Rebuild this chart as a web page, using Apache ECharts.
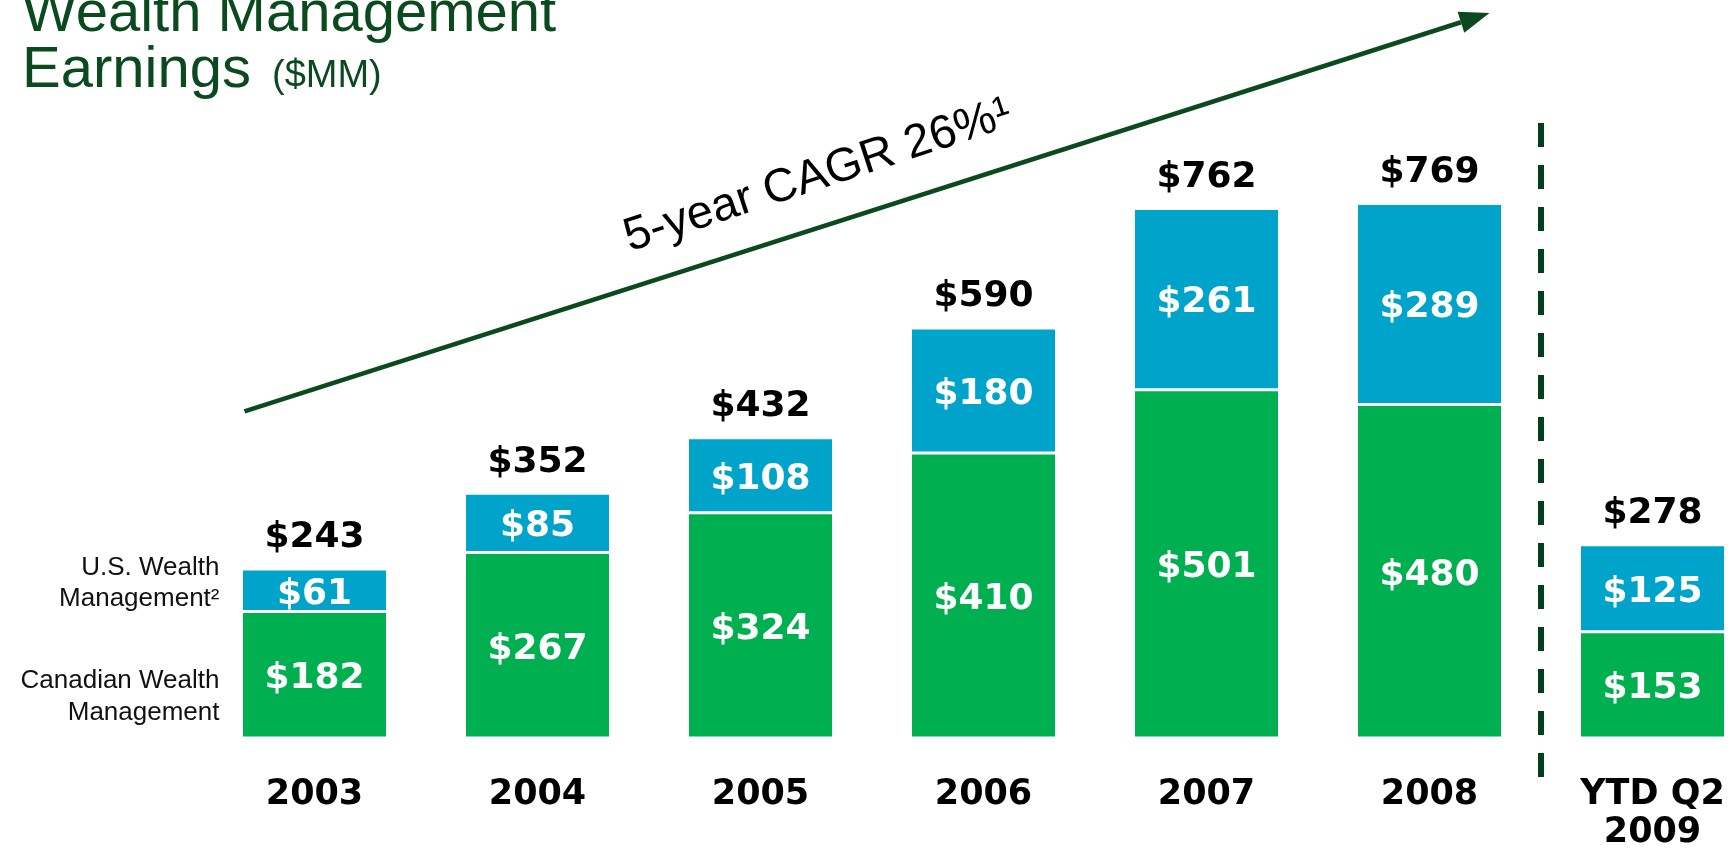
<!DOCTYPE html>
<html lang="en">
<head>
    <meta charset="UTF-8">
    <title>Wealth Management Earnings</title>
    <script src="https://cdn.jsdelivr.net/npm/echarts@6/dist/echarts.min.js"></script>
    <style>
        html, body { margin: 0; padding: 0; background: #fff; }
        #main { width: 1733px; height: 849px; }
    </style>
</head>
<body>
<div id="main"></div>
<script type="text/javascript">
    // data
    var categories = ['2003', '2004', '2005', '2006', '2007', '2008', 'YTD Q2\n2009'];
    var canadianWM = [182, 267, 324, 410, 501, 480, 153];
    var usWM = [61, 85, 108, 180, 261, 289, 125];
    var totals = canadianWM.map(function (v, i) { return v + usWM[i]; });

    var green = '#00B050';
    var blue = '#00A3C9';
    var darkGreen = '#0B4A1E';
    var boldFont = 'DejaVu Sans';
    var plainFont = '"Liberation Sans", Arial, sans-serif';

    var myChart = echarts.init(document.getElementById('main'));

    var valueLabel = {
        show: true,
        position: 'inside',
        offset: [0, 4],
        color: '#fff',
        fontFamily: boldFont,
        fontWeight: 'bold',
        fontSize: 36,
        formatter: function (p) { return '$' + p.value; }
    };

    var option = {
        animation: false,
        backgroundColor: '#fff',
        grid: { left: 203, width: 1561, top: 43, height: 695, outerBoundsMode: 'none', containLabel: false },
        xAxis: {
            type: 'category',
            data: categories,
            axisLine: { show: false },
            axisTick: { show: false },
            axisLabel: {
                margin: 38,
                color: '#000',
                fontFamily: boldFont,
                fontWeight: 'bold',
                fontSize: 35,
                lineHeight: 38
            }
        },
        yAxis: {
            type: 'value',
            min: 0,
            max: 1000,
            show: false,
            splitLine: { show: false }
        },
        series: [
            {
                name: 'Canadian Wealth Management',
                type: 'bar',
                stack: 'wm',
                barWidth: 146,
                data: canadianWM,
                itemStyle: { color: green, borderColor: '#fff', borderWidth: 1.5 },
                label: valueLabel
            },
            {
                name: 'U.S. Wealth Management',
                type: 'bar',
                stack: 'wm',
                barWidth: 146,
                data: usWM,
                itemStyle: { color: blue, borderColor: '#fff', borderWidth: 1.5 },
                label: valueLabel
            },
            {
                // zero-height cap that carries the total label
                name: 'Total',
                type: 'bar',
                stack: 'wm',
                barWidth: 146,
                data: totals.map(function () { return 0; }),
                itemStyle: { color: 'transparent' },
                label: {
                    show: true,
                    position: 'top',
                    distance: 17,
                    offset: [0, 4],
                    color: '#000',
                    fontFamily: boldFont,
                    fontWeight: 'bold',
                    fontSize: 36,
                    formatter: function (p) { return '$' + totals[p.dataIndex]; }
                }
            }
        ]
    };
    myChart.setOption(option);

    // annotations placed from the chart's own scale
    function px(cat, val) { return myChart.convertToPixel({ gridIndex: 0 }, [cat, val]); }

    var p5 = px(5, 0), p6 = px(6, 0);
    var sepX = (p5[0] + p6[0]) / 2;

    var a0 = px(0, 470); a0[0] -= 70;
    var a1 = px(5, 1043); a1[0] += 60;
    var ang = Math.atan2(a1[1] - a0[1], a1[0] - a0[0]);
    var headLen = 30, headHalf = 11;
    var back = [a1[0] - headLen * Math.cos(ang), a1[1] - headLen * Math.sin(ang)];
    var head = [
        a1,
        [back[0] + headHalf * Math.sin(ang), back[1] - headHalf * Math.cos(ang)],
        [back[0] - headHalf * Math.sin(ang), back[1] + headHalf * Math.cos(ang)]
    ];

    var bar0 = px(0, 0);
    var labelRight = bar0[0] - 73 - 22;

    myChart.setOption({
        graphic: [
            {
                type: 'text', x: 22, y: 15,
                style: { text: 'Wealth Management', font: '58px ' + plainFont, fill: darkGreen, verticalAlign: 'middle' }
            },
            {
                type: 'text', x: 22, y: 71,
                style: { text: 'Earnings', font: '58px ' + plainFont, fill: darkGreen, verticalAlign: 'middle' }
            },
            {
                type: 'text', x: 272, y: 77,
                style: { text: '($MM)', font: '38px ' + plainFont, fill: darkGreen, verticalAlign: 'middle' }
            },
            {
                type: 'text', x: labelRight, y: px(0, 222)[1],
                style: { text: 'U.S. Wealth\nManagement²', font: '26px ' + plainFont, lineHeight: 31, fill: '#111', align: 'right', verticalAlign: 'middle' }
            },
            {
                type: 'text', x: labelRight, y: px(0, 59)[1],
                style: { text: 'Canadian Wealth\nManagement', font: '26px ' + plainFont, lineHeight: 32, fill: '#111', align: 'right', verticalAlign: 'middle' }
            },
            {
                type: 'line',
                shape: { x1: a0[0], y1: a0[1], x2: back[0], y2: back[1] },
                style: { stroke: darkGreen, lineWidth: 4.5 }
            },
            {
                type: 'polygon',
                shape: { points: head },
                style: { fill: darkGreen }
            },
            {
                type: 'text', x: 818, y: 176, rotation: 0.318,
                style: { text: '5-year CAGR 26%¹', font: '47px ' + plainFont, fill: '#000', align: 'center', verticalAlign: 'middle' }
            },
            {
                type: 'line',
                shape: { x1: sepX, y1: 123, x2: sepX, y2: 777 },
                style: { stroke: '#013F19', lineWidth: 6, lineDash: [24, 18] }
            }
        ]
    });
</script>
</body>
</html>
